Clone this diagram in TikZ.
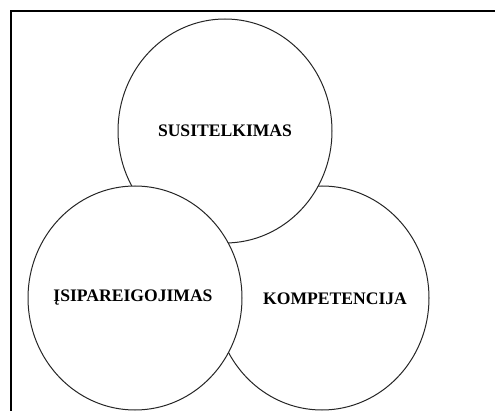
\documentclass[tikz,border=0pt]{standalone}
\usepackage{fontspec}
\setmainfont{Liberation Serif}
\usetikzlibrary{shapes.geometric}

\begin{document}
\begin{tikzpicture}[x=1pt, y=-1pt,
    ring/.style={ellipse, draw=black!85, line width=1pt, fill=white,
      minimum width=214pt, minimum height=224pt, inner sep=0pt},
    word/.style={anchor=base, inner sep=0pt,
      font=\bfseries\fontsize{17.6}{20}\selectfont}]
    \clip (0, 0) rectangle (495, 411);
    \draw[line width=2pt] (11, 420) |- (500, 11);
    \begin{scope}
      \node[ring] (kompring) at (322, 298) {};
      \node[ring] (susring) at (225, 131) {};
      \node[ring] (isiring) at (135, 298) {};
      \node[word] (sus) at (225, 137) {SUSITELKIMAS};
      \node[word] (isi) at (133, 301.5) {ĮSIPAREIGOJIMAS};
      \node[word] (komp) at (335, 304.5) {KOMPETENCIJA};
    \end{scope}
\end{tikzpicture}
\end{document}
